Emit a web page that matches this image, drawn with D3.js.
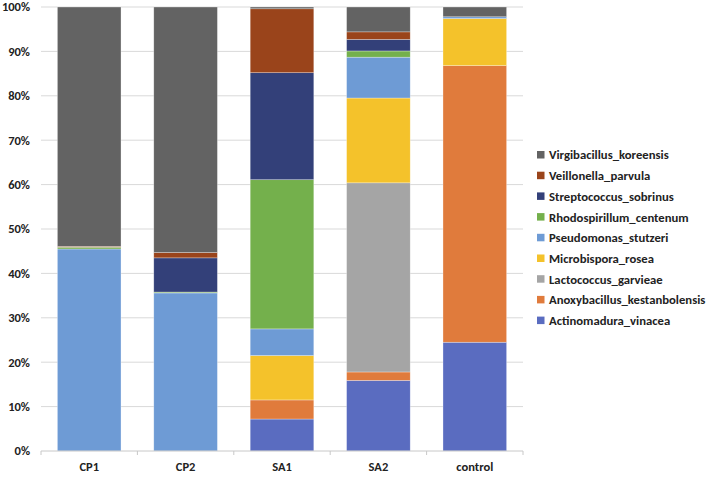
<!DOCTYPE html>
<html>
<head>
<meta charset="utf-8">
<script src="https://cdn.jsdelivr.net/npm/d3@7"></script>
<style>
  body { margin: 0; background: #fff; }
  #root { width: 711px; height: 477px; }
  text { font-family: Calibri, Carlito, "Open Sans", "Liberation Sans", sans-serif; font-weight: bold; fill: #222; }
</style>
</head>
<body>
<div id="root"></div>
<script>
const samples = ['CP1', 'CP2', 'SA1', 'SA2', 'control']
// bottom to top stacking order
const species = [
  'Actinomadura_vinacea',
  'Anoxybacillus_kestanbolensis',
  'Lactococcus_garvieae',
  'Microbispora_rosea',
  'Pseudomonas_stutzeri',
  'Rhodospirillum_centenum',
  'Streptococcus_sobrinus',
  'Veillonella_parvula',
  'Virgibacillus_koreensis'
]
const colors = ['#5a6cc0', '#e07b3c', '#a5a5a5', '#f4c22b', '#6e9bd5', '#74b04c', '#334079', '#9a441b', '#636363']

// percent per species, one value per sample (CP1, CP2, SA1, SA2, control)
const actinomadura = [0, 0, 7.2, 15.9, 24.5]
const anoxybacillus = [0, 0, 4.3, 1.9, 62.3]
const lactococcus = [0, 0, 0, 42.6, 0]
const microbispora = [0, 0, 10.0, 19.1, 10.6]
const pseudomonas = [45.5, 35.6, 6.0, 9.2, 0.4]
const rhodospirillum = [0.4, 0.2, 33.6, 1.4, 0]
const streptococcus = [0, 7.7, 24.1, 2.6, 0]
const veillonella = [0.2, 1.2, 14.4, 1.7, 0]
const virgibacillus = [53.9, 55.3, 0.4, 5.6, 2.2]

const yTicks = [0, 10, 20, 30, 40, 50, 60, 70, 80, 90, 100]

const seriesValues = [actinomadura, anoxybacillus, lactococcus, microbispora, pseudomonas,
  rhodospirillum, streptococcus, veillonella, virgibacillus]

const table = samples.map((s, i) => {
  const row = { sample: s }
  species.forEach((sp, j) => { row[sp] = seriesValues[j][i] })
  return row
})

const div = document.getElementById('root')
const width = 711
const height = 477
const margin = { top: 7, right: 188, bottom: 26, left: 41 }

const svg = d3.select(div).append('svg')
  .attr('width', width)
  .attr('height', height)

const x = d3.scaleBand()
  .domain(samples)
  .range([margin.left, width - margin.right])
  .paddingInner(0.34)
  .paddingOuter(0.17)

const y = d3.scaleLinear()
  .domain([0, 100])
  .range([height - margin.bottom, margin.top])

// gridlines
svg.append('g')
  .selectAll('line')
  .data(yTicks.slice(1))
  .join('line')
  .attr('x1', margin.left)
  .attr('x2', width - margin.right)
  .attr('y1', d => y(d))
  .attr('y2', d => y(d))
  .attr('stroke', '#d9d9d9')
  .attr('stroke-width', 1)

const stack = d3.stack().keys(species)
const stacked = stack(table)

svg.append('g')
  .selectAll('g')
  .data(stacked)
  .join('g')
  .attr('fill', (d, i) => colors[i])
  .selectAll('rect')
  .data(d => d)
  .join('rect')
  .attr('x', d => x(d.data.sample))
  .attr('width', x.bandwidth())
  .attr('y', d => y(d[1]))
  .attr('height', d => Math.max(0, y(d[0]) - y(d[1])))
  .attr('stroke', d => (d[1] - d[0]) > 0 ? '#ffffff' : 'none')
  .attr('stroke-opacity', 0.5)
  .attr('stroke-width', 0.6)

// y axis labels
svg.append('g')
  .selectAll('text')
  .data(yTicks)
  .join('text')
  .attr('x', 30)
  .attr('y', d => y(d))
  .attr('dy', '0.35em')
  .attr('text-anchor', 'end')
  .attr('font-size', 12.5)
  .text(d => d + '%')

// x axis line and ticks
const xAxis = svg.append('g')
xAxis.append('line')
  .attr('x1', margin.left)
  .attr('x2', width - margin.right)
  .attr('y1', y(0))
  .attr('y2', y(0))
  .attr('stroke', '#c8c8c8')

const step = x.step()
const bounds = d3.range(samples.length + 1).map(i => margin.left + i * step)
xAxis.selectAll('.tick')
  .data(bounds)
  .join('line')
  .attr('class', 'tick')
  .attr('x1', d => d)
  .attr('x2', d => d)
  .attr('y1', y(0))
  .attr('y2', y(0) + 4)
  .attr('stroke', '#c8c8c8')

xAxis.selectAll('text')
  .data(samples)
  .join('text')
  .attr('x', d => x(d) + x.bandwidth() / 2)
  .attr('y', 467)
  .attr('dy', '0.35em')
  .attr('text-anchor', 'middle')
  .attr('font-size', 12.5)
  .text(d => d)

// legend, top to bottom in reverse stacking order
const legendItems = species.map((s, i) => ({ name: s, color: colors[i] })).reverse()
const legend = svg.append('g')
  .attr('transform', 'translate(537,155)')

const item = legend.selectAll('g')
  .data(legendItems)
  .join('g')
  .attr('transform', (d, i) => `translate(0,${i * 20.7})`)

item.append('rect')
  .attr('x', 0)
  .attr('y', -4)
  .attr('width', 7.5)
  .attr('height', 7.5)
  .attr('fill', d => d.color)

item.append('text')
  .attr('x', 12)
  .attr('y', 0)
  .attr('dy', '0.35em')
  .attr('font-size', 12.7)
  .text(d => d.name)
</script>
</body>
</html>
